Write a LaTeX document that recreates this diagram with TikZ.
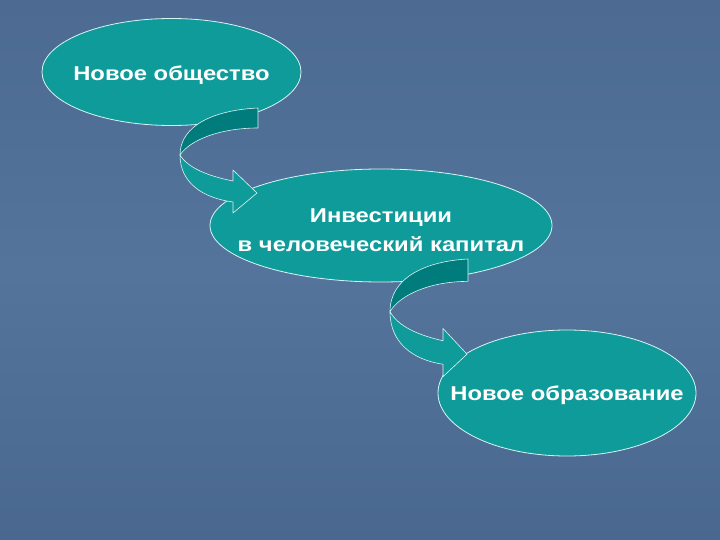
\documentclass[tikz,border=0pt]{standalone}
\usepackage{fontspec}
\newfontfamily\labfont[FakeStretch=1.19]{Liberation Sans}
\usetikzlibrary{shapes.geometric}
\definecolor{bgtop}{RGB}{76,106,146}
\definecolor{bgmid}{RGB}{84,116,156}
\definecolor{bgbot}{RGB}{74,104,143}
\definecolor{tealfill}{RGB}{16,155,155}
\definecolor{tealdark}{RGB}{0,124,124}
\definecolor{edgeline}{RGB}{215,245,245}
\tikzset{
  oval/.style={ellipse, draw=edgeline, line width=0.8pt, fill=tealfill, inner sep=0pt},
  lab/.style={text=white, align=center, inner sep=0pt,
    font=\labfont\bfseries\fontsize{20}{29}\selectfont},
  bandback/.style={fill=tealdark, draw=edgeline, line width=0.6pt, line join=round},
  bandfront/.style={fill=tealfill, draw=edgeline, line width=0.6pt, line join=round},
  pics/twistarrow/.style={code={
    \path[bandback] (0,0) .. controls (-43,2) and (-78,17) .. (-78,47)
      .. controls (-68,32) and (-38,20) .. (0,20) -- cycle;
    \path[bandfront] (-78,47) .. controls (-78,75) and (-55,90) .. (-25,94)
      -- (-25,105) -- (-1,85) -- (-25,62) -- (-25,73)
      .. controls (-50,68) and (-70,60) .. (-78,47) -- cycle;
  }}
}
\begin{document}
\begin{tikzpicture}[x=1pt,y=-1pt]
  \shade[top color=bgtop, bottom color=bgbot, middle color=bgmid] (0,0) rectangle (720,540);
  \useasboundingbox (0,0) rectangle (720,540);

  \node[oval, minimum width=259pt, minimum height=107pt] (n1) at (171.5,72) {};
  \node[oval, minimum width=342pt, minimum height=113pt] (n2) at (381,225.5) {};
  \node[oval, minimum width=258pt, minimum height=126pt] (n3) at (567,393) {};

  \node[lab] (t1) at ([yshift=-3pt]n1.center) {Новое общество};
  \node[lab] (t2) at ([yshift=-4.5pt]n2.center) {Инвестиции\\в человеческий капитал};
  \node[lab] (t3) at ([yshift=-2pt]n3.center) {Новое образование};

  \coordinate (a1) at (258,108);
  \coordinate (a2) at (468,259);
  \pic at (a1) {twistarrow};
  \pic[yscale=1.12] at (a2) {twistarrow};
\end{tikzpicture}
\end{document}
